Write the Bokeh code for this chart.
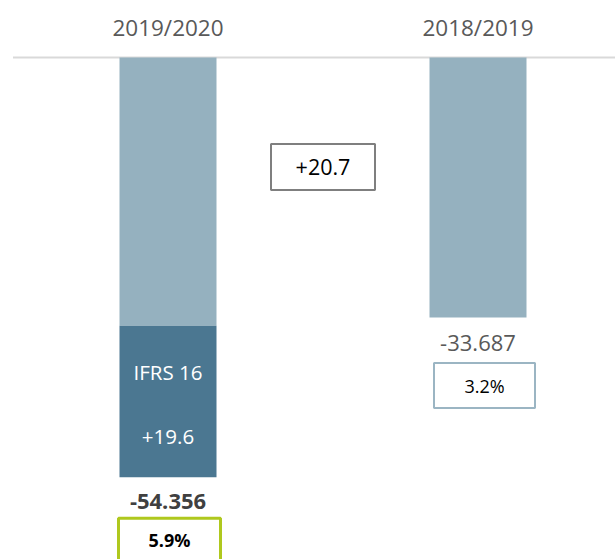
from bokeh.plotting import figure
from bokeh.models import Range1d
from bokeh.core.properties import value
from bokeh.embed import file_html
from bokeh.resources import INLINE

# ---- data ----
periods = ["2019/2020", "2018/2019"]
totals = [-54.356, -33.687]
ifrs16_effect = [19.6, 0.0]
total_labels = ["-54.356", "-33.687"]
margin_labels = ["5.9%", "3.2%"]
delta_label = "+20.7"
ifrs_label = "IFRS 16"
ifrs_value_label = "+19.6"

# ---- layout constants ----
W, H = 615, 559
PX = 7.72            # pixels per unit of value
BASE_PX = 57         # baseline distance from canvas top
SLOT = 155.0         # pixels per category slot
LEFT_CENTER = 167.5  # pixel x of first bar centre in canvas

xs = [0, 2]          # category slots (middle slot holds the delta box)
x_start = -LEFT_CENTER / SLOT
x_end = x_start + W / SLOT
y_end = BASE_PX / PX
y_start = -(H - BASE_PX) / PX

p = figure(width=W, height=H, output_backend="svg", toolbar_location=None,
           x_range=Range1d(x_start, x_end), y_range=Range1d(y_start, y_end),
           min_border=0)
p.axis.visible = False
p.grid.visible = False
p.outline_line_color = None
p.background_fill_color = "white"

LIGHT = "#95b1bf"
DARK = "#4b7791"
FONT = value("Open Sans")

# baseline
p.segment(x0=[xs[0] - 1.0], x1=[x_end], y0=[0], y1=[0], line_color="#d9d9d9", line_width=2)

# bars
light_bottom = [t + e for t, e in zip(totals, ifrs16_effect)]
p.vbar(x=xs, top=[0, 0], bottom=light_bottom, width=97 / SLOT, fill_color=LIGHT, line_color=None)
p.vbar(x=[xs[0]], top=[light_bottom[0]], bottom=[totals[0]], width=97 / SLOT,
       fill_color=DARK, line_color=None)

# headers
p.text(x=xs, y=[0, 0], text=periods, y_offset=-30, text_align="center",
       text_baseline="middle", text_font=FONT, text_font_size="22.5px", text_color="#595959")

# IFRS labels inside dark segment
mid_dark = (light_bottom[0] + totals[0]) / 2
p.text(x=[xs[0]], y=[mid_dark], text=[ifrs_label], y_offset=-29, text_align="center",
       text_baseline="middle", text_font=FONT, text_font_size="20.5px", text_color="white")
p.text(x=[xs[0]], y=[mid_dark], text=[ifrs_value_label], y_offset=36, text_align="center",
       text_baseline="middle", text_font=FONT, text_font_size="20.5px", text_color="white")

# total labels
p.text(x=[xs[0]], y=[totals[0]], text=[total_labels[0]], y_offset=24, text_align="center",
       text_baseline="middle", text_font=FONT, text_font_size="22px", text_color="#404040",
       text_font_style="bold")
p.text(x=[xs[1]], y=[totals[1]], text=[total_labels[1]], y_offset=25, text_align="center",
       text_baseline="middle", text_font=FONT, text_font_size="22px", text_color="#595959")

# margin boxes
box_y = [totals[0] - 63 / PX, totals[1] - 68 / PX]
box_x = [xs[0] + 1.5 / SLOT, xs[1] + 6.5 / SLOT]
p.rect(x=[box_x[0]], y=[box_y[0]], width=102, height=44, width_units="screen", height_units="screen",
       fill_color="white", line_color="#afc81e", line_width=3)
p.rect(x=[box_x[1]], y=[box_y[1]], width=101, height=45, width_units="screen", height_units="screen",
       fill_color="white", line_color="#9bb5c3", line_width=2)
p.text(x=[box_x[0]], y=[box_y[0]], text=[margin_labels[0]], text_align="center",
       text_baseline="middle", text_font=FONT, text_font_size="18px", text_color="black",
       text_font_style="bold")
p.text(x=[box_x[1]], y=[box_y[1]], text=[margin_labels[1]], text_align="center",
       text_baseline="middle", text_font=FONT, text_font_size="18px", text_color="black")

# delta box
DELTA_Y = -14.2
p.rect(x=[1], y=[DELTA_Y], width=104, height=46, width_units="screen", height_units="screen",
       fill_color="white", line_color="#7f7f7f", line_width=2)
p.text(x=[1], y=[DELTA_Y], text=[delta_label], text_align="center", text_baseline="middle",
       text_font=FONT, text_font_size="21.5px", text_color="black")

open("out.html", "w").write(file_html(p, INLINE))
